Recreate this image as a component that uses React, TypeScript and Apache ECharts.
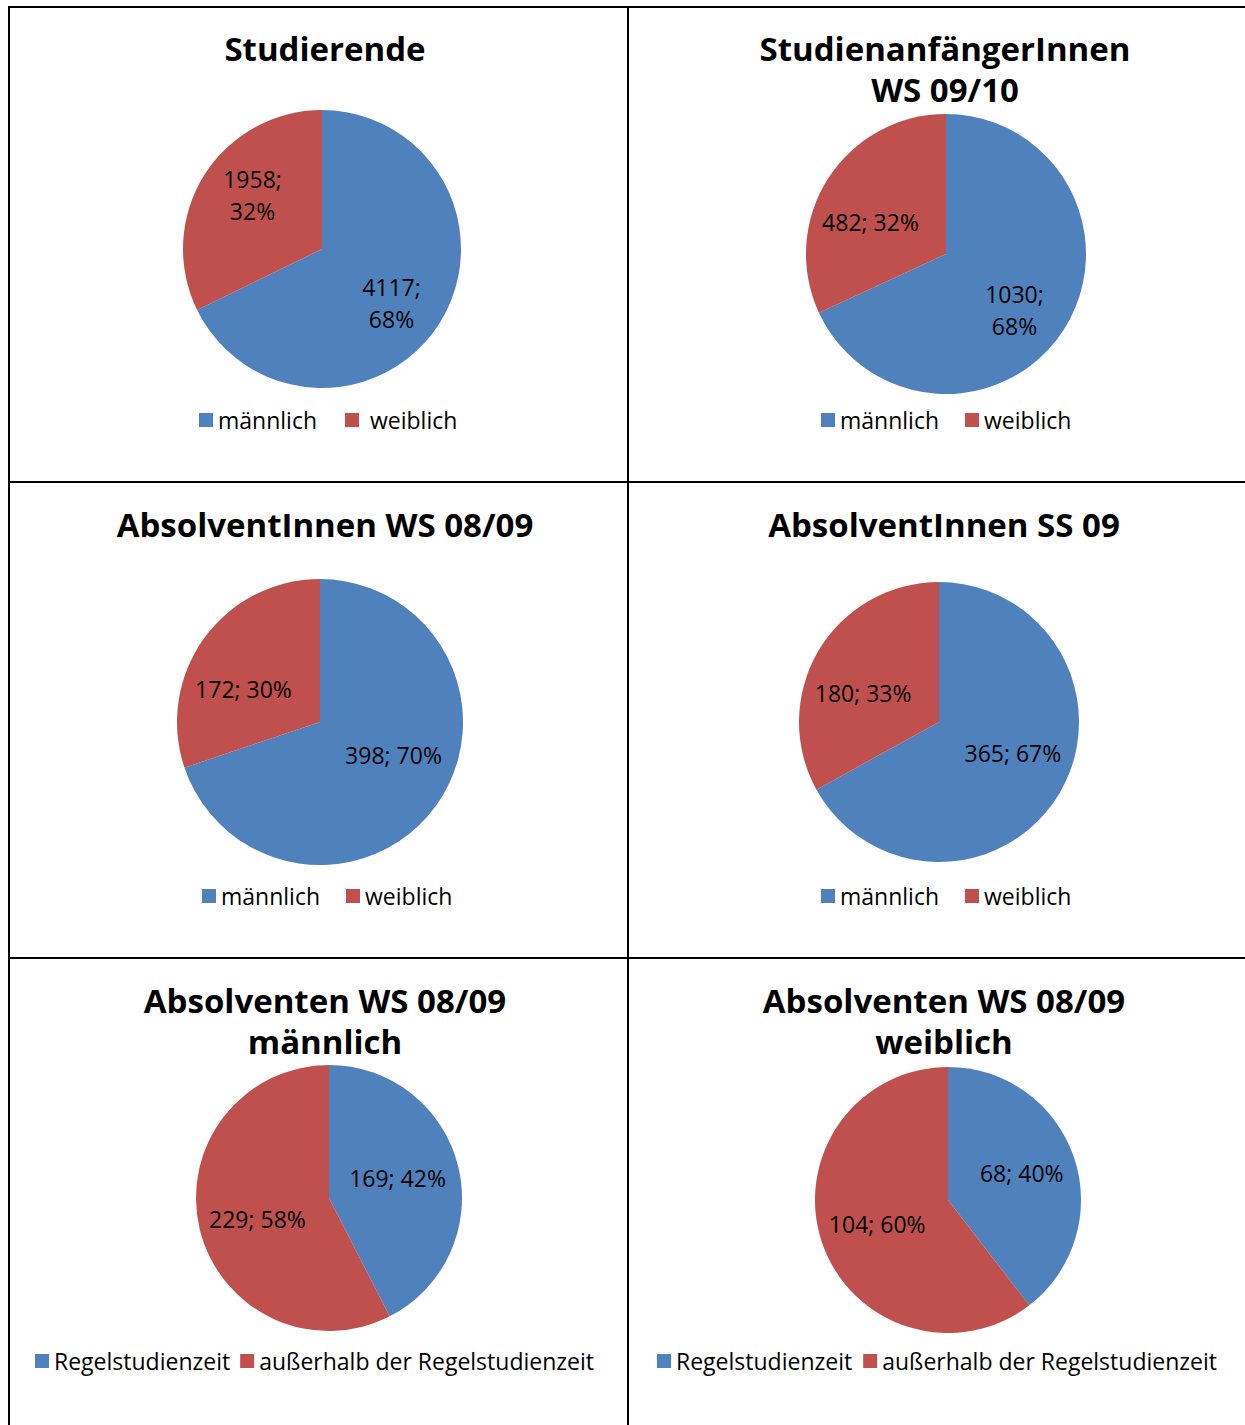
import React, { useEffect, useRef } from "react";
import * as echarts from "echarts";

const genderNames = ["männlich", "weiblich"];
const timeNames = ["Regelstudienzeit", "außerhalb der Regelstudienzeit"];

const studierende = [4117, 1958];
const anfaenger = [1030, 482];
const absolventWS = [398, 172];
const absolventSS = [365, 180];
const absMaennlich = [169, 229];
const absWeiblich = [68, 104];

const titles = [
  "Studierende",
  "StudienanfängerInnen\nWS 09/10",
  "AbsolventInnen WS 08/09",
  "AbsolventInnen SS 09",
  "Absolventen WS 08/09\nmännlich",
  "Absolventen WS 08/09\nweiblich",
];

const BLUE = "#4F81BD";
const RED = "#C0504D";
const FONT = '"Open Sans", "Noto Sans", sans-serif';

type PanelCfg = {
  values: number[];
  names: string[];
  center: [number, number];
  radius: number;
  formats: string[];
  offsets: [number, number][];
};

const panels: PanelCfg[] = [
  { values: studierende, names: genderNames, center: [322, 249], radius: 139, formats: ["{c};\n{d}%", "{c};\n{d}%"], offsets: [[8, 16], [-8, -16]] },
  { values: anfaenger, names: genderNames, center: [946, 254], radius: 140, formats: ["{c};\n{d}%", "{c}; {d}%"], offsets: [[7, 17], [-14, 7]] },
  { values: absolventWS, names: genderNames, center: [320, 722], radius: 143, formats: ["{c}; {d}%", "{c}; {d}%"], offsets: [[13, -10], [-16, 10]] },
  { values: absolventSS, names: genderNames, center: [939, 722], radius: 140, formats: ["{c}; {d}%", "{c}; {d}%"], offsets: [[11, -6], [-13, 8]] },
  { values: absMaennlich, names: timeNames, center: [329, 1198], radius: 133, formats: ["{c}; {d}%", "{c}; {d}%"], offsets: [[1, -4], [-4, 5]] },
  { values: absWeiblich, names: timeNames, center: [948, 1200], radius: 133, formats: ["{c}; {d}%", "{c}; {d}%"], offsets: [[8, -5], [-5, 2]] },
];

const titlePos: [number, number][] = [
  [325, 48],
  [945, 48],
  [325, 524],
  [944, 524],
  [325, 1000],
  [944, 1000],
];

const legendPos = [
  { left: 199, top: 408, gap: 28, data: genderNames, space: true },
  { left: 821, top: 408, gap: 26, data: genderNames, space: false },
  { left: 202, top: 884, gap: 26, data: genderNames, space: false },
  { left: 821, top: 884, gap: 26, data: genderNames, space: false },
  { left: 35, top: 1349, gap: 10, data: timeNames, space: false },
  { left: 657, top: 1349, gap: 11, data: timeNames, space: false },
];

export default function App() {
  const ref = useRef<HTMLDivElement>(null);
  useEffect(() => {
    if (!ref.current) return;
    const chart = echarts.init(ref.current, undefined, { renderer: "svg" });

    const series = panels.map((p) => ({
      type: "pie",
      center: p.center,
      radius: p.radius,
      startAngle: 90,
      clockwise: true,
      percentPrecision: 0,
      avoidLabelOverlap: false,
      emphasis: { disabled: true },
      labelLine: { show: false },
      itemStyle: { borderWidth: 0 },
      label: {
        show: true,
        position: "inside",
        color: "#000",
        fontSize: 23,
        lineHeight: 32,
        fontFamily: FONT,
      },
      data: p.values.map((v, i) => ({
        value: v,
        name: p.names[i],
        itemStyle: { color: i === 0 ? BLUE : RED },
        label: { formatter: p.formats[i], offset: p.offsets[i] },
      })),
    }));

    const legends = legendPos.map((l) => ({
      left: l.left,
      top: l.top,
      padding: 0,
      orient: "horizontal",
      icon: "rect",
      itemWidth: 14,
      itemHeight: 14,
      itemGap: l.gap,
      selectedMode: false,
      data: l.data,
      formatter: l.space ? (n: string) => (n === "weiblich" ? " " + n : n) : undefined,
      textStyle: { color: "#000", fontSize: 23, fontFamily: FONT, lineHeight: 24 },
    }));

    const lineStyle = { stroke: "#000", lineWidth: 2 };
    const lines = [
      { x1: 8, y1: 7, x2: 1245, y2: 7 },
      { x1: 9, y1: 7, x2: 9, y2: 1425 },
      { x1: 628, y1: 7, x2: 628, y2: 1425 },
      { x1: 8, y1: 482, x2: 1245, y2: 482 },
      { x1: 8, y1: 958, x2: 1245, y2: 958 },
    ].map((s) => ({ type: "line", shape: s, style: lineStyle, silent: true }));

    const titleTexts = titles.map((t, i) => ({
      type: "text",
      x: titlePos[i][0],
      y: titlePos[i][1] - 20,
      style: {
        text: t,
        align: "center",
        verticalAlign: "top",
        font: `bold 33px ${FONT}`,
        lineHeight: 41,
        fill: "#000",
      },
    }));

    chart.setOption({
      animation: false,
      backgroundColor: "#fff",
      legend: legends,
      series,
      graphic: [...lines, ...titleTexts],
    });
    return () => chart.dispose();
  }, []);
  return (
    <div
      ref={ref}
      style={{ position: "absolute", left: 0, top: 0, width: 1245, height: 1425 }}
    />
  );
}
